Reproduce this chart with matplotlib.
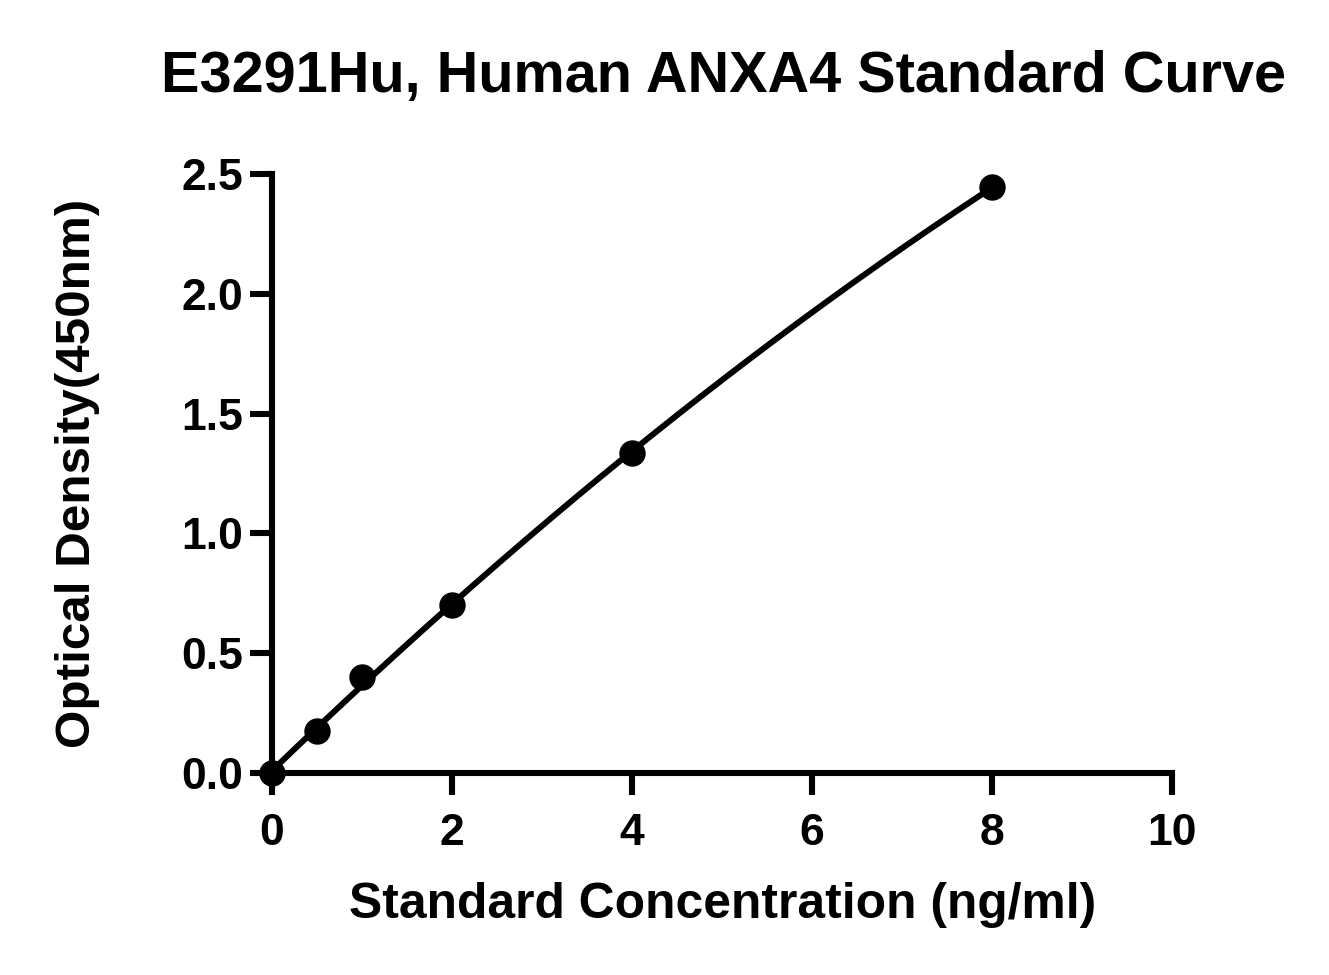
import numpy as np
import matplotlib
matplotlib.use("Agg")
import matplotlib.pyplot as plt

conc = [0, 0.5, 1, 2, 4, 8]
od = [0.0, 0.175, 0.40, 0.70, 1.335, 2.445]
xticks = [0, 2, 4, 6, 8, 10]
yticks = [0.0, 0.5, 1.0, 1.5, 2.0, 2.5]
title = "E3291Hu, Human ANXA4 Standard Curve"
xlabel = "Standard Concentration (ng/ml)"
ylabel = "Optical Density(450nm)"

plt.rcParams['font.family'] = ['Liberation Sans', 'DejaVu Sans']
plt.rcParams['font.weight'] = 'bold'

fig = plt.figure(figsize=(13.29, 9.75), dpi=100)
ax = fig.add_axes([272/1329, 1-773/975, 900/1329, 599/975])

coef = np.polyfit(conc, od, 2)
xs = np.linspace(min(conc), max(conc), 200)
ax.plot(xs, np.polyval(coef, xs), color='black', lw=4.3, zorder=2, clip_on=False,
        solid_capstyle='round')
ax.plot(conc, od, 'o', color='black', ms=18, zorder=3, clip_on=False)

ax.set_xlim(0, 10)
ax.set_ylim(0, 2.5)
ax.set_xticks(xticks)
ax.set_xticklabels([f"{t:g}" for t in xticks])
ax.set_yticks(yticks)
ax.set_yticklabels([f"{t:.1f}" for t in yticks])
for s in ['top', 'right']:
    ax.spines[s].set_visible(False)
for s in ['left', 'bottom']:
    ax.spines[s].set_linewidth(4.4)
    ax.spines[s].set_capstyle('projecting')
ax.tick_params(axis='both', length=16, width=4.4, labelsize=32)
ax.tick_params(axis='x', pad=13)
ax.tick_params(axis='y', pad=5)
for lab in ax.get_xticklabels() + ax.get_yticklabels():
    lab.set_fontweight('bold')

fig.text(724/1329, 1-77/975, title, ha='center', va='center', fontsize=41.5, fontweight='bold')
fig.text(723/1329, 1-905/975, xlabel, ha='center', va='center', fontsize=35.8, fontweight='bold')
fig.text(78/1329, 1-473/975, ylabel, ha='center', va='center', rotation=90, fontsize=35.6, fontweight='bold')

fig.savefig("out.png", dpi=100)
